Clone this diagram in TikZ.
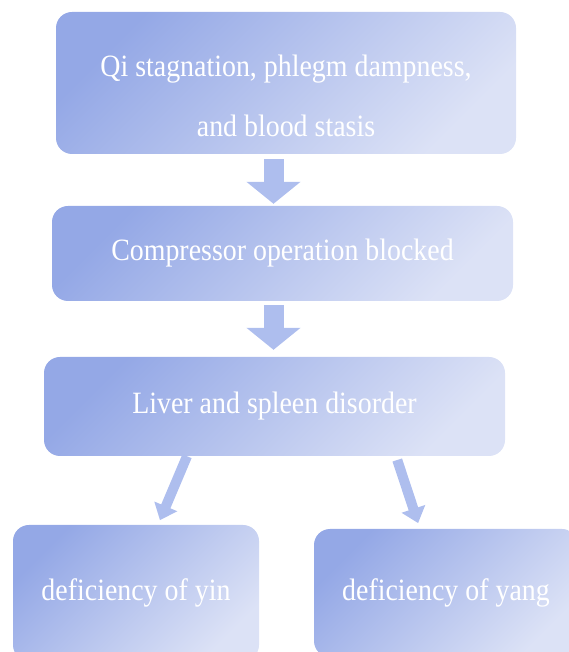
\documentclass[tikz,border=0pt]{standalone}
\usepackage{fontspec}
\setmainfont[FakeStretch=0.9]{Liberation Serif}
\usetikzlibrary{positioning, arrows.meta}
\definecolor{boxdark}{HTML}{94A8E6}
\definecolor{boxlight}{HTML}{DCE2F6}
\definecolor{arrowblue}{HTML}{AEBEEE}

\begin{document}
\begin{tikzpicture}[x=1pt, y=1pt,
	box/.style={rectangle, rounded corners=16pt, top color=boxdark, bottom color=boxlight, shading angle=45, text=white, font=\fontsize{31}{34}\selectfont, align=center, inner sep=0pt},
	flow/.style={arrowblue, line width=20pt, -{Triangle[width=53pt, length=22pt]}},
	branch/.style={arrowblue, line width=10pt, -{Triangle[width=24pt, length=15pt]}}]
			\useasboundingbox (0,0) rectangle (569,652);
			\clip (0,0) rectangle (569,652);
			
			\node[box, minimum width=460pt, minimum height=142pt] (cause) at (286,569) {\rule{0pt}{48pt}Qi stagnation, phlegm dampness,\\[26pt]and blood stasis};
			\node[box, minimum width=461pt, minimum height=95pt] (blocked) at (282.5,398.5) {Compressor operation blocked};
			\node[box, minimum width=461pt, minimum height=99pt] (liver) at (274.5,245.5) {Liver and spleen disorder};
			\node[box, minimum width=246pt, minimum height=136pt] (yin) at (136,59) {deficiency of yin};
			\node[box, minimum width=264pt, minimum height=128pt] (yang) at (446,59) {deficiency of yang};
			
			\draw[flow, shorten <=5pt, shorten >=2pt] ([xshift=-12.5pt]cause.south) -- ([xshift=-9pt]blocked.north);
			\draw[flow, shorten <=4pt, shorten >=7pt] ([xshift=-9pt]blocked.south) -- ([xshift=-1pt]liver.north);
			
			\draw[branch, shorten >=5pt] ([xshift=-87.5pt]liver.south) -- ([xshift=22pt]yin.north);
			\draw[branch, shorten <=4pt, shorten >=6pt] ([xshift=121.5pt]liver.south) -- ([xshift=-26pt]yang.north);
		\end{tikzpicture}
\end{document}
